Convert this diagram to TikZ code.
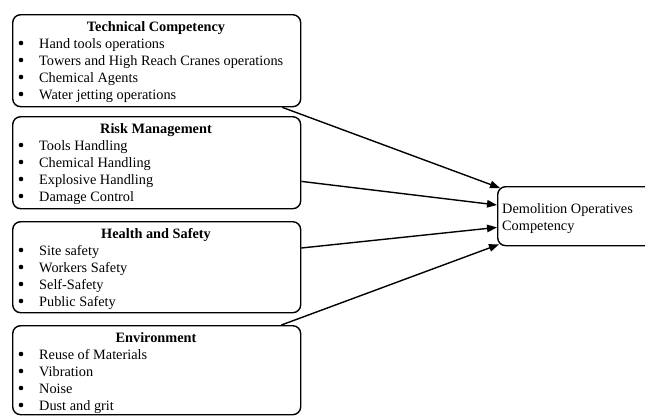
\documentclass[tikz,border=0pt]{standalone}
\usepackage{fontspec}
\setmainfont{Liberation Serif}
\usetikzlibrary{arrows.meta}
\tikzset{
  box/.style={draw, line width=1.4pt, rounded corners=8pt, inner sep=0pt, anchor=north west},
  ttl/.style={inner sep=0pt, anchor=base, font=\fontsize{14.3}{17}\selectfont\bfseries},
  itm/.style={inner sep=0pt, anchor=base west, font=\fontsize{14.3}{17}\selectfont},
  bul/.style={circle, fill, inner sep=0pt, minimum size=4.6pt},
  conn/.style={line width=1.4pt, -{Triangle[length=10pt,width=7.5pt]}}
}
\begin{document}
\begin{tikzpicture}[x=1pt,y=-1pt]
\useasboundingbox (0,0) rectangle (645,415);
\clip (0,0) rectangle (645,415);
% boxes
\node[box, minimum width=288pt, minimum height=92pt] (tc) at (12,14) {};
\node[box, minimum width=288pt, minimum height=92pt] (rm) at (12,116) {};
\node[box, minimum width=288pt, minimum height=91pt] (hs) at (12,221) {};
\node[box, minimum width=288pt, minimum height=89pt] (en) at (12,325) {};
\node[box, minimum width=200pt, minimum height=59pt] (dem) at (497,186) {};
% titles
\node[ttl] (tct) at (156,31) {Technical Competency};
\node[ttl] (rmt) at (156,133) {Risk Management};
\node[ttl] (hst) at (156,238) {Health and Safety};
\node[ttl] (ent) at (156,342) {Environment};
% bullets and items
\foreach \t/\a/\b/\c/\d in {14/Hand tools operations/Towers and High Reach Cranes operations/Chemical Agents/Water jetting operations,
  116/Tools Handling/Chemical Handling/Explosive Handling/Damage Control,
  221/Site safety/Workers Safety/Self-Safety/Public Safety,
  325/Reuse of Materials/Vibration/Noise/Dust and grit}{
  \node[bul] (b1-\t) at (21,\t+29) {};
  \node[bul] (b2-\t) at (21,\t+46) {};
  \node[bul] (b3-\t) at (21,\t+63) {};
  \node[bul] (b4-\t) at (21,\t+80) {};
  \node[itm] (i1-\t) at (39,\t+34) {\a};
  \node[itm] (i2-\t) at (39,\t+51) {\b};
  \node[itm] (i3-\t) at (39,\t+68) {\c};
  \node[itm] (i4-\t) at (39,\t+85) {\d};
}
\node[itm] (d1) at (502,213) {Demolition Operatives};
\node[itm] (d2) at (502,230) {Competency};
% connectors
\draw[conn] ([xshift=-19pt]tc.south east) -- ([xshift=3pt,yshift=-2pt]dem.north west);
\draw[conn] ([yshift=28pt]rm.south east) -- ([yshift=-19pt]dem.north west);
\draw[conn] ([yshift=-27pt]hs.north east) -- ([yshift=19pt]dem.south west);
\draw[conn] ([xshift=-20pt]en.north east) -- ([xshift=2pt,yshift=2pt]dem.south west);
\end{tikzpicture}
\end{document}
